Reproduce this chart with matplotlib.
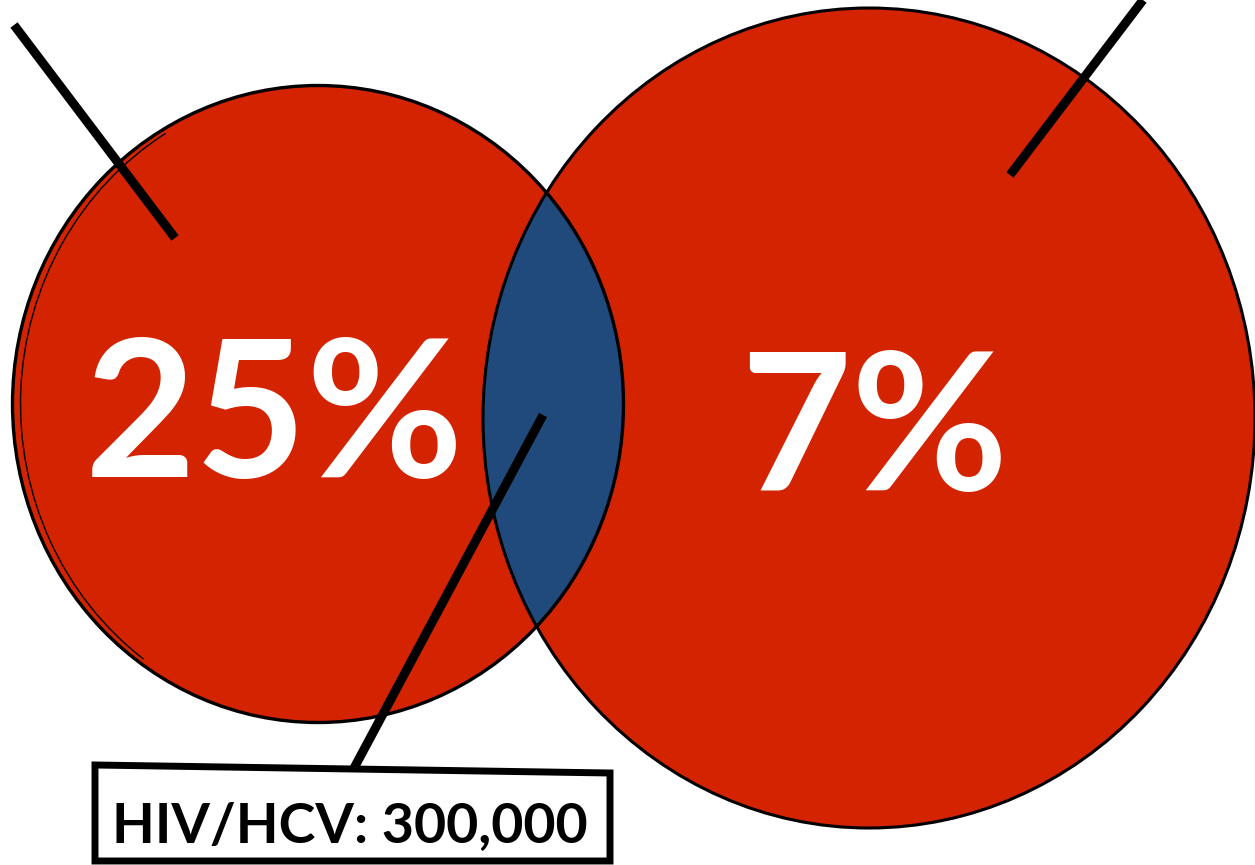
import matplotlib.pyplot as plt
from matplotlib.patches import Ellipse, Arc, Polygon

# share labels
labels = ["25%", "7%"]
overlap_label = "HIV/HCV: 300,000"

red = "#d42300"
blue = "#214a7c"

fig = plt.figure(figsize=(12.55, 8.65), dpi=100)
ax = fig.add_axes([0, 0, 1, 1])
ax.set_xlim(0, 1255)
ax.set_ylim(865, 0)
ax.axis("off")

# circles (pixel coordinates)
left = Ellipse((318, 404), 611, 637, facecolor=red, edgecolor="none", zorder=1)
right = Ellipse((869, 418), 772, 820, facecolor=red, edgecolor="none", zorder=2)
ax.add_patch(left)
ax.add_patch(right)

# overlap lens
lens = Ellipse((318, 404), 611, 637, facecolor=blue, edgecolor="none", zorder=3)
ax.add_patch(lens)
lens.set_clip_path(right)

# outlines
ax.add_patch(Ellipse((318, 404), 611, 637, fill=False, edgecolor="black", lw=2.4, zorder=4))
ax.add_patch(Ellipse((869, 418), 772, 820, fill=False, edgecolor="black", lw=2.2, zorder=4))
ax.add_patch(Arc((322, 404), 603, 633, theta1=125, theta2=240, edgecolor="black", lw=1.0, zorder=4))

# leader lines
ax.plot([14, 175], [25, 238], color="black", lw=6.5, solid_capstyle="butt", zorder=5)
ax.plot([1143, 1010], [0, 175], color="black", lw=6.5, solid_capstyle="butt", zorder=5)
ax.plot([543, 353], [415, 770], color="black", lw=6.5, solid_capstyle="butt", zorder=5)

# percentages
ax.text(274, 477, labels[0], color="white", fontsize=138, fontweight="bold",
        family="Lato", ha="center", va="baseline", zorder=6)
ax.text(874, 490, labels[1], color="white", fontsize=138, fontweight="bold",
        family="Lato", ha="center", va="baseline", zorder=6)

# label box
box = Polygon([[95, 765], [610, 773], [610, 861], [95, 861]], closed=True,
              facecolor="white", edgecolor="black", lw=5, zorder=7)
ax.add_patch(box)
ax.text(350, 842, overlap_label, color="black", fontsize=40, fontweight="bold",
        family="Lato", ha="center", va="baseline", zorder=8)

fig.savefig("out.png", dpi=100)
